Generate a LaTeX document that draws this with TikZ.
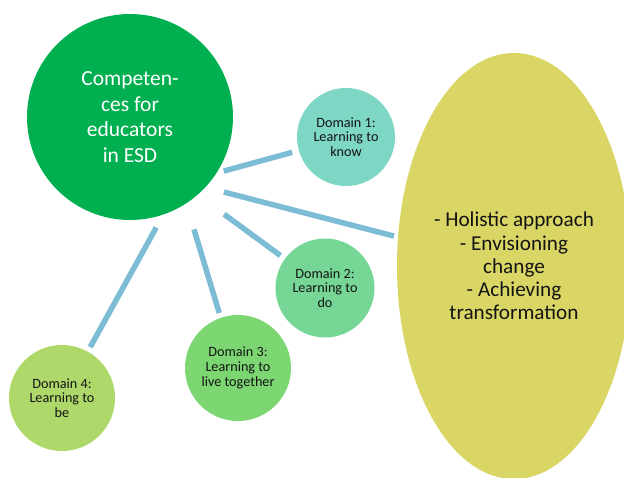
\documentclass[tikz,border=0pt]{standalone}
\usepackage{fontspec}
\setmainfont{Carlito}
\usetikzlibrary{shapes.geometric}

\definecolor{esdgreen}{RGB}{0,176,80}
\definecolor{knowteal}{RGB}{126,214,196}
\definecolor{domint}{RGB}{118,214,150}
\definecolor{livegreen}{RGB}{124,215,114}
\definecolor{belime}{RGB}{174,216,106}
\definecolor{goalyellow}{RGB}{217,214,102}
\definecolor{linkblue}{RGB}{124,188,212}
\definecolor{textdark}{RGB}{20,20,20}

\begin{document}
\begin{tikzpicture}[x=1pt,y=-1pt,
	bubble/.style={circle,inner sep=0pt,outer sep=0pt,minimum size=#1,align=center,
		text=textdark,font=\fontsize{14.2}{14.8}\selectfont},
	link/.style={line width=5.5pt,linkblue}]
	
	% Frame
	\useasboundingbox (0,0) rectangle (624,477);
	\clip (0,0) rectangle (624,477);
	
	% Central circle
	\node[circle,fill=esdgreen,inner sep=0pt,outer sep=0pt,minimum size=206pt,
		align=center,text=white,font=\fontsize{21.5}{25.7}\selectfont]
		(big) at (130,117) {Competen-\\ces for\\educators\\in ESD};
	
	% Domains
	\node[bubble=98pt,fill=knowteal] (d1) at (346,137) {Domain 1:\\Learning to\\know};
	\node[bubble=99pt,fill=domint] (d2) at (325,288) {Domain 2:\\Learning to\\do};
	\node[bubble=106pt,fill=livegreen] (d3) at (238,368) {Domain 3:\\Learning to\\live together};
	\node[bubble=106pt,fill=belime] (d4) at (62,398) {Domain 4:\\Learning to\\be};
	
	% Key competences
	\node[ellipse,fill=goalyellow,inner sep=0pt,outer sep=0pt,minimum width=234pt,
		minimum height=426pt,align=center,text=textdark,font=\fontsize{21.2}{23.2}\selectfont]
		(goals) at (514,266) {- Holistic approach\\- Envisioning\\change\\- Achieving\\transformation};
	
	% Links
	\draw[link,shorten <=7.6pt,shorten >=7pt] (big.-33.7) -- (d1.-164.6);
	\draw[link,shorten <=19.2pt,shorten >=4.2pt] (big.-43.7) -- (goals.166.4);
	\draw[link,shorten <=32.9pt,shorten >=5.7pt] (big.-49.9) -- (d2.144.6);
	\draw[link,shorten <=27.1pt,shorten >=5.2pt] (big.-57.8) -- (d3.109.2);
	\draw[link,shorten <=15pt,shorten >=5.2pt] (big.-71.8) -- (d4.61.2);
	
\end{tikzpicture}
\end{document}
